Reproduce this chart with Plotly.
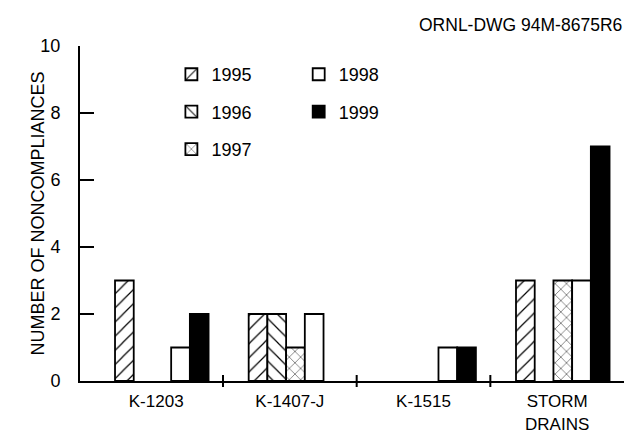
import plotly.graph_objects as go

categories = ["K-1203", "K-1407-J", "K-1515", "STORM<br>DRAINS"]
years = ["1995", "1996", "1997", "1998", "1999"]
v1995 = [3, 2, 0, 3]
v1996 = [0, 2, 0, 0]
v1997 = [0, 1, 0, 3]
v1998 = [1, 2, 1, 3]
v1999 = [2, 0, 1, 7]
series = [v1995, v1996, v1997, v1998, v1999]

FONT = "Liberation Sans, Arial, sans-serif"
styles = {
    "1995": dict(color="white", pattern=dict(shape="/", size=10, solidity=0.12, fgcolor="black", bgcolor="white", fillmode="replace")),
    "1996": dict(color="white", pattern=dict(shape="\\", size=10, solidity=0.12, fgcolor="black", bgcolor="white", fillmode="replace")),
    "1997": dict(color="white", pattern=dict(shape="x", size=8, solidity=0.15, fgcolor="#444444", bgcolor="white", fillmode="replace")),
    "1998": dict(color="white"),
    "1999": dict(color="black"),
}
legend_of = {"1995": "legend", "1996": "legend", "1997": "legend", "1998": "legend2", "1999": "legend2"}

BAR_W = 0.14
SHIFT = 0.042
fig = go.Figure()
for i, (yr, vals) in enumerate(zip(years, series)):
    fig.add_trace(go.Bar(
        x=categories, y=[v if v else None for v in vals], name=yr,
        width=BAR_W, offset=SHIFT - 2.5 * BAR_W + i * BAR_W,
        marker=dict(line=dict(color="black", width=1.8), **styles[yr]),
        legend=legend_of[yr], legendgroup=yr,
    ))

# group divider ticks crossing the x axis
for b in [0.5, 1.5, 2.5]:
    fig.add_shape(type="line", xref="x", yref="paper", x0=b, x1=b, y0=-0.018, y1=0.018,
                  line=dict(color="black", width=2))

fig.add_annotation(text="ORNL-DWG 94M-8675R6", xref="paper", yref="paper",
                   x=1.0, y=1.0, xanchor="right", yanchor="bottom", yshift=9,
                   showarrow=False, font=dict(family=FONT, size=17.5, color="black"))

fig.add_annotation(text="NUMBER OF NONCOMPLIANCES", textangle=-90, xref="paper", yref="paper",
                   x=0, y=0.5, xanchor="center", yanchor="middle", xshift=-43,
                   showarrow=False, font=dict(family=FONT, size=18, color="black"))

legend_common = dict(font=dict(family=FONT, size=18, color="black"), bgcolor="rgba(0,0,0,0)",
                     tracegroupgap=11, yanchor="top", xanchor="left", itemclick=False)
fig.update_layout(
    width=626, height=433,
    margin=dict(l=80, r=2, t=46, b=52, autoexpand=False),
    paper_bgcolor="white", plot_bgcolor="white",
    barmode="group",
    font=dict(family=FONT, size=18, color="black"),
    legend=dict(x=0.168, y=0.97, **legend_common),
    legend2=dict(x=0.402, y=0.97, **legend_common),
    xaxis=dict(range=[-0.57, 3.5], showline=True, linecolor="black", linewidth=2, automargin=False,
               ticks="outside", ticklen=4, tickcolor="rgba(0,0,0,0)",
               tickfont=dict(family=FONT, size=17, color="black"), showgrid=False, zeroline=False),
    yaxis=dict(range=[0, 10], tickvals=[0, 2, 4, 6, 8, 10], showline=True, linecolor="black", linewidth=2,
               automargin=False,
               ticks="inside", ticklen=14, tickwidth=2, tickcolor="black", ticklabelstandoff=14,
               tickfont=dict(family=FONT, size=18, color="black"), showgrid=False, zeroline=False),
    showlegend=True,
)

fig.write_html("out.html")
